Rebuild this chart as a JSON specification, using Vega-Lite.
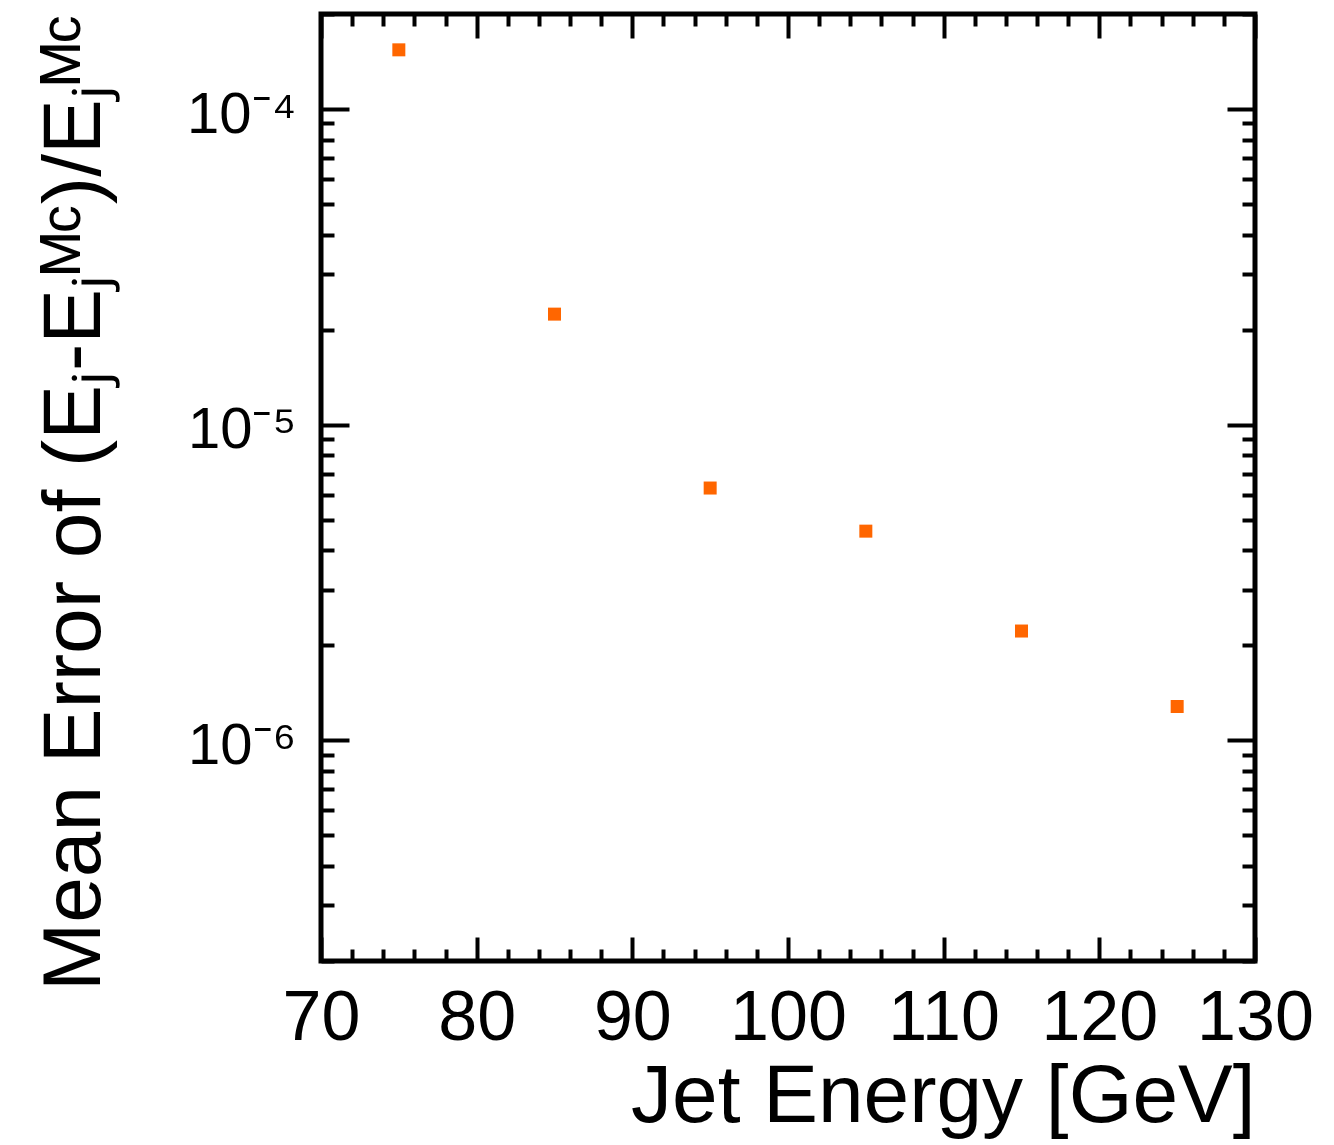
{
  "$schema": "https://vega.github.io/schema/vega-lite/v6.json",
  "autosize": {"type": "none"},
  "padding": {"left": 321, "top": 14, "right": 79, "bottom": 184},
  "width": 934,
  "height": 947,
  "background": "white",
  "config": {
    "view": {"stroke": "black", "strokeWidth": 5},
    "font": "Liberation Sans",
    "axis": {"domain": false, "grid": false, "tickColor": "black", "tickWidth": 4, "labelColor": "black", "titleColor": "black", "labelFont": "Liberation Sans", "titleFont": "Liberation Sans", "titleFontWeight": "normal"}
  },
  "data": {
    "values": [
      {"energy": 75, "err": 0.000154},
      {"energy": 85, "err": 0.0000224},
      {"energy": 95, "err": 0.0000063},
      {"energy": 105, "err": 0.0000046},
      {"energy": 115, "err": 0.00000222},
      {"energy": 125, "err": 0.00000128}
    ]
  },
  "layer": [
    {
      "mark": {"type": "point", "shape": "square", "filled": true, "size": 169, "color": "#ff6600", "opacity": 1},
      "encoding": {
        "x": {
          "field": "energy", "type": "quantitative",
          "scale": {"domain": [70, 130], "nice": false, "zero": false},
          "axis": {
            "orient": "bottom",
            "title": "Jet Energy [GeV]",
            "titleFontSize": 82, "titleAnchor": "end", "titlePadding": -9,
            "values": [70,72,74,76,78,80,82,84,86,88,90,92,94,96,98,100,102,104,106,108,110,112,114,116,118,120,122,124,126,128,130],
            "tickSize": {"condition": {"test": "datum.value % 10 == 0", "value": -24}, "value": -12},
            "labelExpr": "datum.value % 10 == 0 ? datum.label : ''",
            "labelFontSize": 70, "labelPadding": 47, "labelFlush": false, "labelOverlap": false
          }
        },
        "y": {
          "field": "err", "type": "quantitative",
          "scale": {"type": "log", "domain": [0.0000002, 0.0002], "nice": false},
          "axis": {
            "orient": "left",
            "title": "Mean Error of (Eⱼ-Eⱼᴹᶜ)/Eⱼᴹᶜ",
            "titleFontSize": 82, "titleAnchor": "end", "titlePadding": 70,
            "values": [0.0000002,0.0000003,0.0000004,0.0000005,0.0000006,0.0000007,0.0000008,0.0000009,0.000001,0.000002,0.000003,0.000004,0.000005,0.000006,0.000007,0.000008,0.000009,0.00001,0.00002,0.00003,0.00004,0.00005,0.00006,0.00007,0.00008,0.00009,0.0001,0.0002],
            "tickSize": {"condition": {"test": "abs(log(datum.value)/LN10 - round(log(datum.value)/LN10)) < 0.000001", "value": -28}, "value": -13},
            "labelExpr": "abs(log(datum.value)/LN10 + 4) < 0.000001 ? '10⁻⁴' : abs(log(datum.value)/LN10 + 5) < 0.000001 ? '10⁻⁵' : abs(log(datum.value)/LN10 + 6) < 0.000001 ? '10⁻⁶' : ''",
            "labelFontSize": 58, "labelPadding": 53, "labelOffset": 6, "labelOverlap": false, "labelFlush": false
          }
        }
      }
    },
    {
      "mark": {"type": "point", "shape": "square", "filled": true, "size": 169, "color": "#ff6600", "opacity": 0},
      "encoding": {
        "x": {
          "field": "energy", "type": "quantitative",
          "axis": {
            "orient": "top", "title": null, "labels": false,
            "values": [70,72,74,76,78,80,82,84,86,88,90,92,94,96,98,100,102,104,106,108,110,112,114,116,118,120,122,124,126,128,130],
            "tickSize": {"condition": {"test": "datum.value % 10 == 0", "value": -24}, "value": -12}
          }
        },
        "y": {
          "field": "err", "type": "quantitative",
          "axis": {
            "orient": "right", "title": null, "labels": false,
            "values": [0.0000002,0.0000003,0.0000004,0.0000005,0.0000006,0.0000007,0.0000008,0.0000009,0.000001,0.000002,0.000003,0.000004,0.000005,0.000006,0.000007,0.000008,0.000009,0.00001,0.00002,0.00003,0.00004,0.00005,0.00006,0.00007,0.00008,0.00009,0.0001,0.0002],
            "tickSize": {"condition": {"test": "abs(log(datum.value)/LN10 - round(log(datum.value)/LN10)) < 0.000001", "value": -28}, "value": -13}
          }
        }
      }
    }
  ],
  "resolve": {"axis": {"x": "independent", "y": "independent"}}
}
